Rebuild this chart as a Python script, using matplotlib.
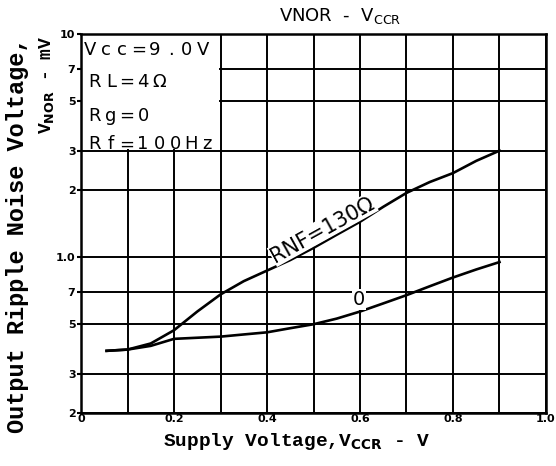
import matplotlib.pyplot as plt
from matplotlib.patches import Rectangle

# values (x in V, y in mV)
vccr = [0.055, 0.1, 0.15, 0.2, 0.25, 0.3, 0.35, 0.4, 0.45, 0.5, 0.55, 0.6,
        0.65, 0.7, 0.75, 0.8, 0.85, 0.9]
vnor_130 = [0.38, 0.385, 0.41, 0.47, 0.57, 0.68, 0.78, 0.87, 0.97, 1.1, 1.26,
            1.44, 1.68, 1.94, 2.17, 2.38, 2.7, 3.0]
vnor_0 = [0.38, 0.385, 0.40, 0.43, 0.435, 0.44, 0.45, 0.46, 0.48, 0.50, 0.53,
          0.57, 0.62, 0.675, 0.74, 0.81, 0.88, 0.95]

x_ticks = [0, 0.1, 0.2, 0.3, 0.4, 0.5, 0.6, 0.7, 0.8, 0.9, 1.0]
x_labels = ['0', '', '0.2', '', '0.4', '', '0.6', '', '0.8', '', '1.0']
y_ticks = [0.2, 0.3, 0.5, 0.7, 1.0, 2, 3, 5, 7, 10]
y_labels = ['2', '3', '5', '7', '1.0', '2', '3', '5', '7', '10']
conditions = ['Vcc=9.0V', 'RL=4Ω', 'Rg=0', 'Rf=100Hz']

fig = plt.figure(figsize=(5.56, 4.66), dpi=100)
ax = fig.add_axes([0.1457, 0.1137, 0.8363, 0.8133])

ax.set_yscale('log')
ax.set_xlim(0, 1.0)
ax.set_ylim(0.2, 10)
ax.set_xticks(x_ticks)
ax.set_xticklabels(x_labels, fontsize=8, fontweight='bold')
ax.set_yticks(y_ticks)
ax.set_yticklabels(y_labels, fontsize=8, fontweight='bold')
ax.minorticks_off()
ax.tick_params(axis='x', length=0, pad=1)
ax.tick_params(axis='y', length=3, width=1.5, pad=1)
ax.grid(True, color='black', linewidth=1.4)
ax.set_axisbelow(True)
for s in ax.spines.values():
    s.set_linewidth(1.8)

ax.plot(vccr, vnor_130, color='black', linewidth=1.9, zorder=3)
ax.plot(vccr, vnor_0, color='black', linewidth=1.9, zorder=3)

# white block for the conditions text
ax.add_patch(Rectangle((0, 3.05), 0.296, 7, facecolor='white', edgecolor='none', zorder=2))
ypos = [8.5, 6.1, 4.3, 3.2]
x0 = [0.02, 0.03, 0.03, 0.03]
for txt, yv, xs in zip(conditions, ypos, x0):
    # spaced out letters like the typewriter original
    for i, ch in enumerate(txt):
        ax.text(xs + i * 0.0345, yv, ch, fontsize=13, va='center', ha='center',
                zorder=4)

ax.text(0.52, 1.33, 'RNF=130Ω', rotation=29, fontsize=15, ha='center', va='center',
        zorder=4, bbox=dict(facecolor='white', edgecolor='none', pad=0.5))
ax.text(0.597, 0.645, '0', fontsize=14, ha='center', va='center', zorder=4,
        bbox=dict(facecolor='white', edgecolor='none', pad=0.5))

fig.text(0.612, 0.965, r'VNOR  -  V$_{\rm CCR}$', fontsize=13, ha='center', va='center')
fig.text(0.534, 0.052, r'Supply Voltage,V$_{\mathbf{CCR}}$ - V', fontsize=14,
         ha='center', va='center', family='Liberation Mono', fontweight='bold')
fig.text(0.032, 0.495, 'Output Ripple Noise Voltage,', fontsize=17, rotation=90,
         ha='center', va='center', family='Liberation Mono', fontweight='bold')
fig.text(0.083, 0.818, r'V$_{\mathbf{NOR}}$ - mV', fontsize=13, rotation=90,
         ha='center', va='center', family='Liberation Mono', fontweight='bold')

fig.savefig('out.png', dpi=100)
